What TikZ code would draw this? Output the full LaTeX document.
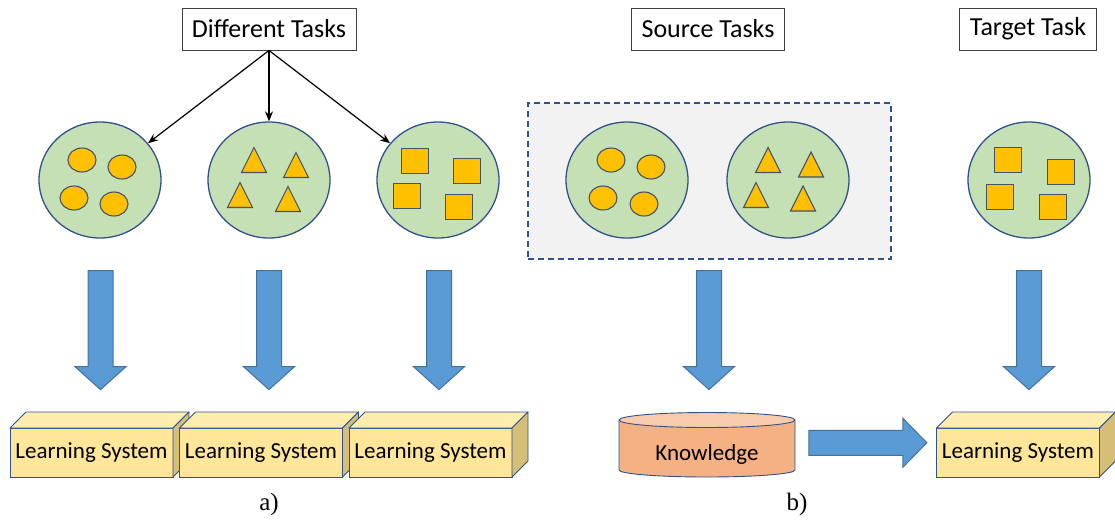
\documentclass[tikz,border=0pt]{standalone}
\usepackage{fontspec}
\setmainfont{Carlito}
\newfontfamily\capfont{Liberation Serif}
\usetikzlibrary{shapes.geometric,calc,arrows.meta}

\definecolor{circfill}{HTML}{C5E0B4}
\definecolor{circline}{HTML}{2F528F}
\definecolor{itemfill}{HTML}{FFC000}
\definecolor{itemline}{HTML}{44546A}
\definecolor{lsfront}{HTML}{FFE699}
\definecolor{lstop}{HTML}{FFEDB0}
\definecolor{lsside}{HTML}{D4BE78}
\definecolor{arrowfill}{HTML}{5B9BD5}
\definecolor{arrowline}{HTML}{41719C}
\definecolor{kbody}{HTML}{F4B183}
\definecolor{ktop}{HTML}{F8CBAD}
\definecolor{panel}{HTML}{F2F2F2}

\tikzset{
  title/.style={draw=black!75, fill=white, line width=0.9pt, inner xsep=10pt,
    minimum height=42pt, font=\fontsize{26}{30}\selectfont},
  task/.style={ellipse, draw=circline, line width=1.3pt, fill=circfill,
    minimum width=122pt, minimum height=116pt, inner sep=0pt},
  item/.style={draw=itemline, line width=1.1pt, fill=itemfill},
  lsys/.style={rectangle, draw=circline, line width=0.9pt, fill=lsfront,
    minimum width=163pt, minimum height=49pt, inner sep=0pt, outer sep=0pt,
    font=\fontsize{23}{26}\selectfont},
  lsedge/.style={draw=circline, line width=0.9pt, line join=round},
  barrow/.style={draw=arrowline, line width=1pt, fill=arrowfill, line join=miter},
  thinarrow/.style={draw=black, line width=1.2pt,
    -{Stealth[length=10pt,width=8pt]}},
  srcbox/.style={draw=circline, fill=panel, line width=1.2pt,
    dash pattern=on 6pt off 4pt},
  caption/.style={font=\capfont\fontsize{25}{28}\selectfont},
  % block arrows, drawn in plain (y up) pic coordinates
  pics/blockdown/.style={code={
    \draw[barrow] (-12.5,59.5) -- (12.5,59.5) -- (12.5,-36.5) -- (25.5,-36.5)
      -- (0,-59.5) -- (-25.5,-36.5) -- (-12.5,-36.5) -- cycle;}},
  pics/blockright/.style={code={
    \draw[barrow] (-59,-12.5) -- (35,-12.5) -- (35,-24.5) -- (59,0)
      -- (35,24.5) -- (35,12.5) -- (-59,12.5) -- cycle;}}
}

% front face plus top and side faces of a box
\newcommand\learnbox[3]{%
  \node[lsys] (#1) at (#2,#3) {Learning System};
  \draw[lsedge, fill=lstop] (#1.north west) -- ++(16,-16)
    -- ($(#1.north east)+(16,-16)$) -- (#1.north east) -- cycle;
  \draw[lsedge, fill=lsside] (#1.north east) -- ++(16,-16)
    -- ($(#1.south east)+(16,-16)$) -- (#1.south east) -- cycle;}

\begin{document}
\begin{tikzpicture}[x=1pt,y=1pt,yscale=-1]
\useasboundingbox (0,0) rectangle (1115,520);

% ---------- part a) ----------
\node[title] (dt) at (269,29) {Different Tasks};

\node[task] (c1) at (100,180) {};
\node[task] (c2) at (269,180) {};
\node[task] (c3) at (438,180) {};

\foreach \dx/\dy in {-18/-20, 22/-13, -26/18, 14/24}
  \draw[item] ($(c1)+(\dx,\dy)$) ellipse [x radius=14, y radius=12];
\foreach \dx/\dy in {-15/-20, 27/-15, -29/15, 19/19}
  \draw[item] ($(c2)+(\dx,\dy)$) ++(0,-12.5) -- ++(12.5,25) -- ++(-25,0) -- cycle;
\foreach \dx/\dy in {-23/-19, 29/-9, -31/16, 21/27}
  \draw[item] ($(c3)+(\dx,\dy)$) ++(-13.5,-12.5) rectangle ++(27,25);

\draw[thinarrow] (dt.south) -- (c1);
\draw[thinarrow] (dt.south) -- (c2.north);
\draw[thinarrow] (dt.south) -- (c3);

\learnbox{ls1}{91.5}{452.5}
\learnbox{ls2}{261}{452.5}
\learnbox{ls3}{430.5}{452.5}

\pic at ($(c1.south)+(0.5,91.5)$) {blockdown};
\pic at ($(c2.south)+(0,91.5)$) {blockdown};
\pic at ($(c3.south)+(1,91.5)$) {blockdown};

\node[caption] (capa) at (269,504) {a)};

% ---------- part b) ----------
\node[title] (st) at (708,29) {Source Tasks};
\node[title] (tt) at (1028,29) {Target Task};

\node[srcbox, minimum width=363pt, minimum height=156pt, inner sep=0pt]
  (src) at (709.5,181) {};

\node[task] (c4) at (627,180) {};
\node[task] (c5) at (788,180) {};
\node[task] (c6) at (1029,180) {};

\foreach \dx/\dy in {-16/-20, 24/-13, -24/18, 17/24}
  \draw[item] ($(c4)+(\dx,\dy)$) ellipse [x radius=14, y radius=12];
\foreach \dx/\dy in {-20/-20, 23/-15.5, -32/15, 15/18.5}
  \draw[item] ($(c5)+(\dx,\dy)$) ++(0,-12.5) -- ++(12.5,25) -- ++(-25,0) -- cycle;
\foreach \dx/\dy in {-21/-20, 32/-8, -29/17, 24/27}
  \draw[item] ($(c6)+(\dx,\dy)$) ++(-13.5,-12.5) rectangle ++(27,25);

% knowledge store drawn as a cylinder
\fill[kbody] (619,420) -- (619,470)
  arc[start angle=180, end angle=0, x radius=88, y radius=7] -- (795,420) -- cycle;
\draw[lsedge] (619,420) -- (619,470)
  arc[start angle=180, end angle=0, x radius=88, y radius=7] -- (795,420);
\draw[lsedge, fill=ktop] (707,420) ellipse [x radius=88, y radius=7.5];
\node[font=\fontsize{23}{26}\selectfont, minimum width=176pt, inner sep=0pt]
  (know) at (707,454) {Knowledge};

\learnbox{ls4}{1018}{452.5}

\pic at ($(src.south)+(-0.5,70.5)$) {blockdown};
\pic at ($(c6.south)+(0,91.5)$) {blockdown};
\pic at ($(know.east)!0.5!(ls4.west)+(2,-10.5)$) {blockright};

\node[caption] (capb) at (797,504) {b)};
\end{tikzpicture}
\end{document}
